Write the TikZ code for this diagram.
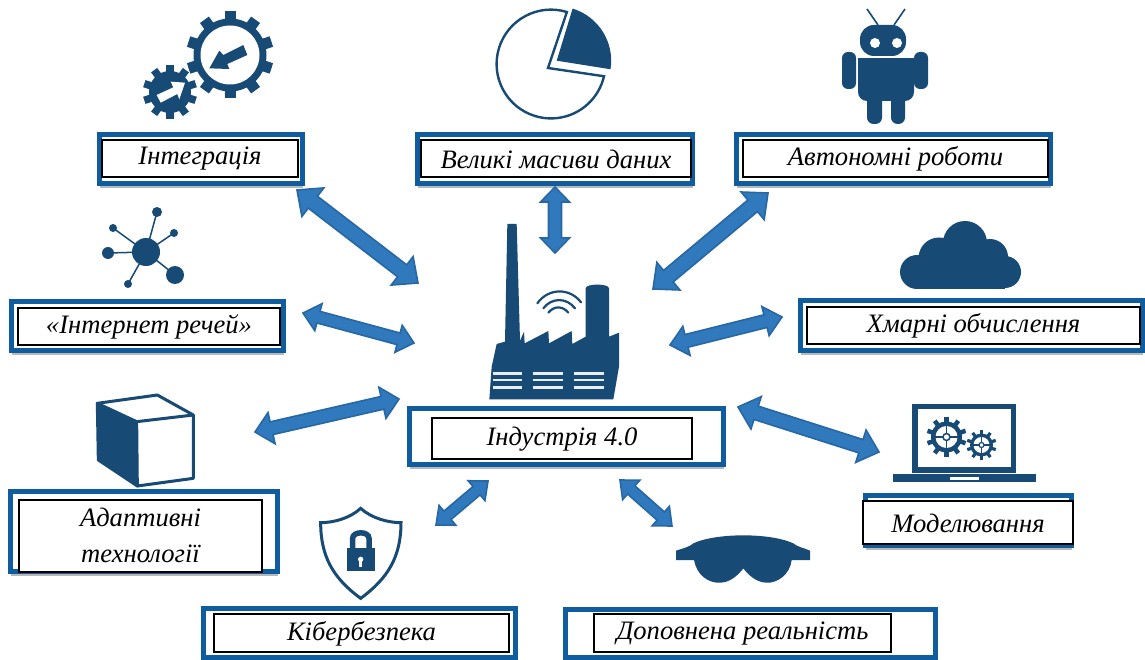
\documentclass[tikz,border=0pt]{standalone}
\usepackage{fontspec}
\setmainfont{Liberation Serif}
\usetikzlibrary{arrows.meta,fit,shadows,calc}
\definecolor{icon}{HTML}{174A75}
\definecolor{frameblue}{HTML}{0F5C9E}
\definecolor{arrowfill}{HTML}{3079BC}
\definecolor{arrowedge}{HTML}{2767A3}
\tikzset{
  outerbox/.style={draw=frameblue,line width=5pt,fill=white,inner sep=0pt,outer sep=0pt,drop shadow={shadow xshift=0.5pt,shadow yshift=-4.5pt,opacity=.28,fill=black}},
  innerbox/.style={draw=black,line width=1.5pt,fill=white,inner sep=0pt,outer sep=0pt},
  lbl/.style={font=\fontsize{26.6}{36}\selectfont\itshape,text=black,align=center,inner sep=0pt},
  iconfill/.style={fill=icon,draw=none},
  iconline/.style={draw=icon,line width=3pt,line join=round},
  blockarrow/.style={draw=arrowedge,fill=arrowfill,line width=1.6pt,line join=miter},
  zoomed/.style={x=0.33333pt,y=-0.33333pt}
}
\newcommand{\labelbox}[5]{% name, outer corners, inner corners, text, text shift
  \node[outerbox,fit={#2}] (o#1) {};
  \node[innerbox,fit={#3}] (i#1) {};
  \node[lbl,yshift=#5] (t#1) at (i#1.center) {#4};
}
\newcommand{\barrow}[5]{% from, to, shaft, head width, head length
  \path let \p1=($(#2)-(#1)$),\n1={atan2(\y1,\x1)},\n2={veclen(\x1,\y1)} in \pgfextra{\xdef\arrang{\n1}\xdef\arrlen{\n2}};
  \pgfmathsetmacro{\alen}{\arrlen}\pgfmathsetmacro{\hs}{#3/2}\pgfmathsetmacro{\hh}{#4/2}\pgfmathsetmacro{\back}{\alen-#5}
  \begin{scope}[shift={(#1)},rotate=\arrang]
  \draw[blockarrow] (0pt,0pt) -- (#5 pt,\hh pt) -- (#5 pt,\hs pt) -- (\back pt,\hs pt) -- (\back pt,\hh pt) -- (\alen pt,0pt)
    -- (\back pt,-\hh pt) -- (\back pt,-\hs pt) -- (#5 pt,-\hs pt) -- (#5 pt,-\hh pt) -- cycle;
  \end{scope}
}
\newcommand{\gearshape}[7]{% cx, cy, outer r, body r, teeth, tooth width, offset
  \foreach \k in {1,...,#5}{
    \pgfmathsetmacro{\ang}{360*\k/#5+#7}
    \draw[draw=icon,line width=#6pt] (#1,#2) -- ++({\ang}:#3pt and -#3pt);
  }
  \fill[icon] (#1,#2) circle[radius=#4];
}
\begin{document}
\begin{tikzpicture}[x=1pt,y=-1pt]
\useasboundingbox (0,0) rectangle (1145,660);
\fill[white] (0,0) rectangle (1145,660);

% label boxes
\labelbox{a}{(99.5,134.5)(302.5,183.5)}{(102,140)(298,177)}{Інтеграція}{-0.5pt}
\labelbox{b}{(417.5,134.5)(692.5,183.5)}{(421,140)(691,177)}{Великі масиви даних}{-0.5pt}
\labelbox{c}{(736.5,134.5)(1050.5,183.5)}{(743,140)(1048,177)}{Автономні роботи}{-0.5pt}
\labelbox{d}{(800.5,300.5)(1142.5,350.5)}{(807,307)(1140,344)}{Хмарні обчислення}{-0.5pt}
\labelbox{e}{(11.5,301.5)(283.5,350.5)}{(18,308)(280,345)}{«Інтернет речей»}{-0.5pt}
\labelbox{f}{(409.5,408.5)(723.5,464.5)}{(432,418)(692,459)}{Індустрія 4.0}{-0.5pt}
\labelbox{g}{(10.5,491.5)(277.5,571.5)}{(19,500)(262,572)}{Адаптивні\\технології}{1pt}
\labelbox{h}{(203.5,608.5)(515.5,657.5)}{(214,614)(509,652)}{Кібербезпека}{-0.5pt}
\labelbox{j}{(565.5,609.5)(935.5,657.5)}{(594,614)(891,652)}{Доповнена реальність}{-0.5pt}
\labelbox{k}{(865.5,495.5)(1071.5,545.5)}{(863,501)(1073,544)}{Моделювання}{-0.5pt}

% arrows
\coordinate (a1) at (297,190); \coordinate (a2) at (418,283);
\coordinate (b1) at (555,187); \coordinate (b2) at (555,253);
\coordinate (c1) at (768,193); \coordinate (c2) at (653,289);
\coordinate (d1) at (782,317); \coordinate (d2) at (670,345);
\coordinate (e1) at (303,313); \coordinate (e2) at (414,343);
\coordinate (g1) at (255,432); \coordinate (g2) at (399,399);
\coordinate (k1) at (738,407); \coordinate (k2) at (879,452);
\coordinate (h1) at (488,481); \coordinate (h2) at (436,525);
\coordinate (j1) at (620,480); \coordinate (j2) at (672,526);
\barrow{a1}{a2}{15}{36}{20}
\barrow{b1}{b2}{13}{29}{15}
\barrow{c1}{c2}{15}{36}{20}
\barrow{d1}{d2}{13}{30}{17}
\barrow{e1}{e2}{12}{28}{16}
\barrow{g1}{g2}{13}{32}{17}
\barrow{k1}{k2}{14}{34}{19}
\barrow{h1}{h2}{11}{26}{15}
\barrow{j1}{j2}{11}{26}{15}

% gears icon
\gearshape{230}{55}{43.5}{36.5}{10}{11}{90}
\fill[white] (230,55) circle[radius=29.5];
\begin{scope}[shift={(90,0)},zoomed]
\fill[icon] (358,205) -- (388,152) -- (400,165) -- (460,135) -- (472,165) -- (412,192) -- (418,207) -- cycle;
\end{scope}
\gearshape{170}{92}{27}{21}{10}{7.5}{90}
\begin{scope}[shift={(90,0)},zoomed]
\fill[white] (285,248) -- (242,245) -- (250,262) -- (200,285) -- (212,308) -- (262,282) -- (268,298) -- cycle;
\end{scope}

% pie icon
\draw[icon,line width=2.4pt,line join=miter] (548,68) -- (566.9,12) arc[start angle=-73,end angle=-347,radius=54.4] -- cycle;
\fill[icon] (556.7,60.7) -- (572.6,8.6) arc[start angle=-73,end angle=9,radius=54.5] -- cycle;

% robot icon
\draw[icon,line width=1.6pt] (878,25) -- (867,9) (894,25) -- (905,9);
\fill[icon,rounded corners=14pt] (860,25) rectangle (906,56);
\fill[white] (875,43) circle[radius=5] (897,43) circle[radius=5];
\fill[icon,rounded corners=6pt] (842,52) rectangle (856,89);
\fill[icon,rounded corners=6pt] (914,52) rectangle (928,89);
\fill[icon,rounded corners=9pt] (858,70) rectangle (914,101);
\fill[icon] (858,58) rectangle (914,85);
\fill[icon,rounded corners=6.5pt] (867,85) rectangle (882,124);
\fill[icon,rounded corners=6.5pt] (891,85) rectangle (905,124);

% cloud icon
\fill[icon] (965,243) circle[radius=22] (939,258) circle[radius=20.5] (917,272) circle[radius=17]
  (990,257) circle[radius=18] (1005,272) circle[radius=16];
\fill[icon] (917,260) rectangle (1005,289);

% network icon
\draw[icon,line width=1.5pt] (146,252) -- (157,212) (146,252) -- (113,228) (146,252) -- (174,233)
  (146,252) -- (108,253) (146,252) -- (175,275) (146,252) -- (128,284);
\fill[icon] (146,252) circle[radius=14] (157,212) circle[radius=5] (113,228) circle[radius=4]
  (174,233) circle[radius=4] (108,253) circle[radius=6] (175,275) circle[radius=9] (128,284) circle[radius=4];

% factory icon
\begin{scope}[shift={(400,220)},zoomed]
\fill[icon] (268,538) -- (275,440) -- (290,372) -- (315,365) -- (322,12) -- (350,12) -- (360,362) -- (372,335)
  -- (374,370) -- (445,333) -- (447,370) -- (515,333) -- (517,372) -- (557,350) -- (557,205) .. controls (557,190) and (627,190) .. (627,205)
  -- (627,350) -- (657,338) -- (657,440) -- (640,538) -- cycle;
\foreach \yy in {460,480,502}{
  \draw[white!90!icon,line width=2.6pt] (278,\yy) -- (365,\yy) (398,\yy) -- (490,\yy) (522,\yy) -- (612,\yy);
}
\draw[icon,line width=2.2pt,line cap=round] (412,250) .. controls (445,203) and (510,203) .. (543,247);
\draw[icon,line width=2.2pt,line cap=round] (430,265) .. controls (455,232) and (500,232) .. (525,265);
\draw[icon,line width=2.2pt,line cap=round] (445,278) .. controls (462,257) and (488,257) .. (505,278);
\end{scope}

% cube icon
\begin{scope}[shift={(0,380)},zoomed]
\draw[iconline,fill=white] (292,70) -- (472,45) -- (580,105) -- (580,295) -- (412,318) -- cycle;
\draw[iconline] (410,125) -- (580,105);
\draw[iconline,fill=icon] (292,70) -- (410,125) -- (412,318) -- (295,240) -- cycle;
\end{scope}

% shield icon
\begin{scope}[shift={(190,470)},zoomed]
\draw[iconline,fill=white,line join=miter] (512,115) .. controls (480,145) and (430,158) .. (392,158)
  .. controls (392,260) and (430,325) .. (512,385) .. controls (594,325) and (633,260) .. (633,158)
  .. controls (595,158) and (545,145) .. (512,115) -- cycle;
\draw[icon,line width=5.5pt] (488,235) -- (488,205) .. controls (488,183) and (537,183) .. (537,205) -- (537,235);
\fill[icon] (472,235) rectangle (555,303);
\fill[white] (512,268) circle[radius=8];
\fill[white] (508,268) rectangle (516,292);
\end{scope}

% goggles icon
\begin{scope}[shift={(560,380)},zoomed]
\fill[icon] (348,512) .. controls (370,505) and (390,500) .. (400,490) .. controls (470,458) and (630,458) .. (700,490)
  .. controls (710,500) and (735,505) .. (750,512) -- (750,540) -- (695,540) .. controls (690,585) and (650,610) .. (620,608)
  .. controls (590,608) and (565,585) .. (550,565) .. controls (535,585) and (510,608) .. (480,608)
  .. controls (445,610) and (410,585) .. (402,540) -- (348,540) -- cycle;
\end{scope}

% laptop icon
\begin{scope}[shift={(560,380)},zoomed]
\draw[icon,line width=5.5pt] (1065,280) -- (1065,79) -- (1360,79) -- (1360,280);
\draw[icon,line width=5.5pt] (1065,270) -- (1360,270);
\fill[icon] (998,283) rectangle (1428,307);
\fill[white] (1170,291) rectangle (1258,299);
\end{scope}
\gearshape{946.5}{437}{20}{15.5}{10}{4.5}{90}
\fill[white] (946.5,437) circle[radius=11];
\draw[icon,line width=1.5pt] (934,437) -- (959,437) (946.5,424) -- (946.5,450);
\fill[white] (946.5,437) circle[radius=3.5];
\draw[icon,line width=1.5pt] (946.5,437) circle[radius=3.5];
\gearshape{981.5}{445}{15}{11.5}{10}{3.2}{90}
\fill[white] (981.5,445) circle[radius=8];
\draw[icon,line width=1.2pt] (972,445) -- (991,445) (981.5,435) -- (981.5,455);
\fill[white] (981.5,445) circle[radius=2.5];
\draw[icon,line width=1.2pt] (981.5,445) circle[radius=2.5];
\end{tikzpicture}
\end{document}
